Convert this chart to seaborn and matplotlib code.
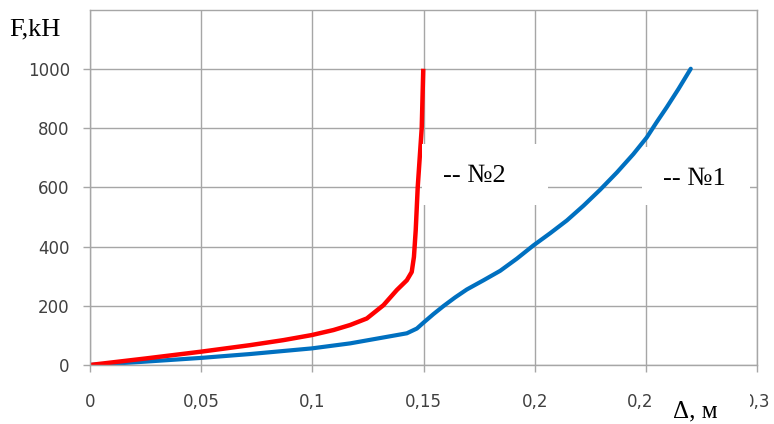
import matplotlib
matplotlib.use("Agg")
import matplotlib.pyplot as plt
from matplotlib.patches import Rectangle
import seaborn as sns
import pandas as pd

# ---- data ----
blue_x = [0, 0.02, 0.05, 0.072, 0.0997, 0.117, 0.132, 0.1425, 0.147, 0.15,
          0.1545, 0.159, 0.1642, 0.1695, 0.177, 0.1845, 0.192, 0.1995,
          0.207, 0.2145, 0.222, 0.2295, 0.237, 0.2444, 0.2504, 0.2549,
          0.2594, 0.2647, 0.2702]
blue_y = [0, 9, 24, 37, 56, 73, 93, 107, 123, 143,
          172, 199, 228, 255, 286, 318, 359, 404,
          445, 488, 538, 592, 650, 712, 768, 820,
          870, 932, 1000]

red_x = [0, 0.025, 0.05, 0.072, 0.087, 0.0997, 0.1095, 0.117, 0.1245,
         0.132, 0.138, 0.1425, 0.1447, 0.1457, 0.1465, 0.1474, 0.1492, 0.1499]
red_y = [0, 22, 45, 67, 84, 101, 118, 135, 157,
         202, 253, 286, 314, 365, 455, 600, 800, 1000]

x_ticks = [0, 0.05, 0.1, 0.15, 0.2, 0.25, 0.3]
x_tick_labels = ["0", "0,05", "0,1", "0,15", "0,2", "0,25", "0,3"]
y_ticks = [0, 200, 400, 600, 800, 1000]
y_tick_labels = ["0", "200", "400", "600", "800", "1000"]

label_1 = "-- №1"
label_2 = "-- №2"
y_title = "F,kH"
x_title = "Δ, м"

df1 = pd.DataFrame({"x": blue_x, "y": blue_y})
df2 = pd.DataFrame({"x": red_x, "y": red_y})

sns.set_style("white")
plt.rcParams["font.family"] = ["DejaVu Sans"]

W, H = 774, 424
fig = plt.figure(figsize=(W / 100, H / 100), dpi=100)
ax = fig.add_axes([90 / W, 59 / H, 667 / W, 355.5 / H])

grid_c = "#a6a6a6"
sns.lineplot(data=df1, x="x", y="y", color="#0070C0", linewidth=3.0,
             sort=False, ax=ax, solid_capstyle="round", solid_joinstyle="round")
sns.lineplot(data=df2, x="x", y="y", color="#FF0000", linewidth=3.2,
             sort=False, ax=ax, solid_capstyle="butt", solid_joinstyle="round")

ax.set_xlim(0, 0.3)
ax.set_ylim(0, 1200)
ax.set_xticks(x_ticks)
ax.set_xticklabels(x_tick_labels)
ax.set_yticks(y_ticks)
ax.set_yticklabels(y_tick_labels)
ax.set_xlabel("")
ax.set_ylabel("")
ax.grid(True, color=grid_c, linewidth=1.0)
ax.set_axisbelow(True)
for s in ax.spines.values():
    s.set_visible(True)
    s.set_color(grid_c)
    s.set_linewidth(1.0)
ax.tick_params(axis="both", direction="out", length=5, width=1.0,
               color=grid_c, labelsize=12, labelcolor="#404040")
ax.tick_params(axis="x", pad=15, bottom=True)
ax.tick_params(axis="y", pad=9.5, left=True)

# white label boxes (figure pixel coords from top)
def box(x0, x1, y0, y1):
    r = Rectangle((x0 / W, 1 - y1 / H), (x1 - x0) / W, (y1 - y0) / H,
                  transform=fig.transFigure, facecolor="white",
                  edgecolor="none", zorder=5)
    fig.patches.append(r)

box(422.3, 548, 144, 205)
box(642, 750, 147, 205)
box(653, 750, 383, 424)

serif = ["Liberation Serif", "DejaVu Serif"]
fig.text(443 / W, 1 - 182 / H, label_2, fontsize=19, family=serif,
         ha="left", va="baseline", color="black", zorder=6)
fig.text(663 / W, 1 - 185 / H, label_1, fontsize=19, family=serif,
         ha="left", va="baseline", color="black", zorder=6)
fig.text(9 / W, 1 - 35 / H, y_title, fontsize=19, family=serif,
         ha="left", va="baseline", color="black", zorder=6)
fig.text(673 / W, 1 - 417 / H, x_title, fontsize=18, family=serif,
         ha="left", va="baseline", color="black", zorder=6)

fig.savefig("out.png", dpi=100)
